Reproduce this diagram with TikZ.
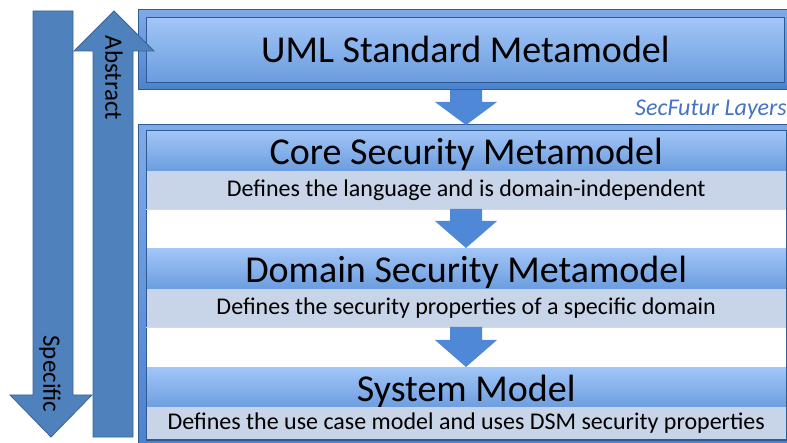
\documentclass[tikz,border=0pt]{standalone}
\usepackage{fontspec}
\setmainfont{Carlito}
\begin{document}
\begin{tikzpicture}[x=1pt,y=-1pt,
  frame/.style={draw=framedark, line width=1.2pt, top color=frametop, bottom color=framebot, inner sep=0pt},
  titleband/.style={draw=framedark, line width=0.8pt, top color=bandtop, bottom color=bandbot, inner sep=0pt, text height=34pt, text depth=8pt, font=\fontsize{38}{42}\selectfont},
  bandtitle/.style={inner sep=0pt, top color=bandtop, bottom color=bandbot, text height=34pt, text depth=8pt, font=\fontsize{38}{42}\selectfont},
  descband/.style={inner sep=0pt, fill=descfill, font=\fontsize{24}{26}\selectfont},
  gapband/.style={inner sep=0pt, fill=white},
  blockarrow/.style={fill=arrowfill, draw=arrowedge, line width=0.8pt},
  sidelabel/.style={font=\fontsize{25}{28}\selectfont, rotate=-90, inner sep=0pt}
]
\definecolor{frametop}{HTML}{7FAAE8}
\definecolor{framebot}{HTML}{4D82CF}
\definecolor{framedark}{HTML}{2F5B95}
\definecolor{bandtop}{HTML}{A2C6F7}
\definecolor{bandbot}{HTML}{6A9CDE}
\definecolor{descfill}{HTML}{C8D4E8}
\definecolor{arrowfill}{HTML}{4F81BD}
\definecolor{arrowedge}{HTML}{3A6496}
\definecolor{flowfill}{HTML}{4E88D6}
\definecolor{layertext}{HTML}{4472C4}
\useasboundingbox (0,0) rectangle (787,443);
\fill[white] (0,0) rectangle (787,443);

% UML box
\node[frame, minimum width=654, minimum height=80, anchor=north west] (umlout) at (138,9) {};
\node[titleband, minimum width=638, minimum height=65, anchor=north west] (uml) at (146,17) {UML Standard Metamodel};

% lower container
\node[frame, minimum width=654, minimum height=320, anchor=north west] (secout) at (138,124) {};
\node[draw=framedark, line width=0.8pt, fill=white, minimum width=640, minimum height=310, anchor=north west, inner sep=0pt] (secin) at (146,130) {};

\node[bandtitle, minimum width=640, minimum height=41, anchor=north west] (core) at (146,130) {Core Security Metamodel};
\node[descband, minimum width=640, minimum height=38, anchor=north west] (coredesc) at (146,171) {Defines the language and is domain-independent};
\node[gapband, minimum width=640, minimum height=39, anchor=north west] (gap1) at (146,209) {};
\node[bandtitle, minimum width=640, minimum height=41, anchor=north west] (dom) at (146,248) {Domain Security Metamodel};
\node[descband, minimum width=640, minimum height=38, anchor=north west] (domdesc) at (146,289) {Defines the security properties of a specific domain};
\node[gapband, minimum width=640, minimum height=40, anchor=north west] (gap2) at (146,327) {};
\node[bandtitle, minimum width=640, minimum height=40, anchor=north west] (sys) at (146,367) {System Model};
\node[descband, minimum width=640, minimum height=32, anchor=north west] (sysdesc) at (146,407) {Defines the use case model and uses DSM security properties};
\draw[framedark, line width=0.8pt] (146,130) rectangle (786,439);
\draw[black!15, line width=0.6pt] (coredesc.south west) -- (coredesc.south east);
\draw[black!15, line width=0.6pt] (domdesc.south west) -- (domdesc.south east);

\node[anchor=east, inner sep=0pt, text=layertext, font=\fontsize{24}{26}\selectfont\itshape] (layers) at (787,110) {SecFutur Layers};

% flow arrows between layers
\fill[flowfill] (450,90) -- (482,90) -- (482,102) -- (497,102) -- (466,125) -- (435,102) -- (450,102) -- cycle;
\fill[flowfill] (450,209) -- (482,209) -- (482,221) -- (497,221) -- (466,248) -- (435,221) -- (450,221) -- cycle;
\fill[flowfill] (450,327) -- (482,327) -- (482,340) -- (497,340) -- (466,367) -- (435,340) -- (450,340) -- cycle;

% side arrows
\draw[blockarrow] (33,11) -- (73,11) -- (73,395) -- (92,395) -- (51,437) -- (10,395) -- (33,395) -- cycle;
\draw[blockarrow] (93,437) -- (133,437) -- (133,51) -- (154,51) -- (114,11) -- (74,51) -- (93,51) -- cycle;
\node[sidelabel] (abs) at (114,78) {Abstract};
\node[sidelabel] (spec) at (50,374) {Specific};
\end{tikzpicture}
\end{document}
